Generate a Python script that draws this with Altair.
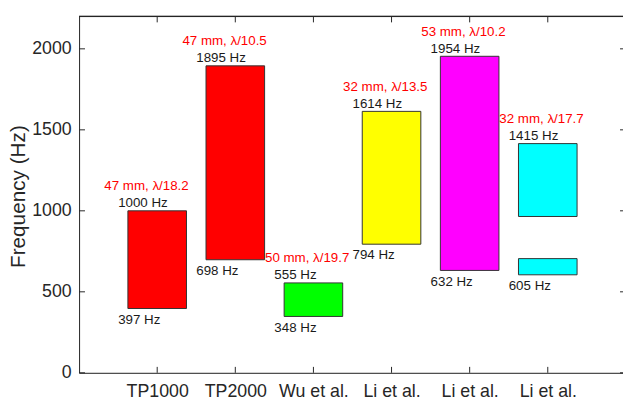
import json
import altair as alt
import pandas as pd

# ---- data ----
categories = ["TP1000", "TP2000", "Wu et al.", "Li et al.", "Li et al.", "Li et al."]
low_hz = [397, 698, 348, 794, 632, 605]
high_hz = [1000, 1895, 555, 1614, 1954, 1415]
size_labels = ["47 mm, λ/18.2", "47 mm, λ/10.5", "50 mm, λ/19.7",
               "32 mm, λ/13.5", "53 mm, λ/10.2", "32 mm, λ/17.7"]
bar_colors = ["#FF0000", "#FF0000", "#00FF00", "#FFFF00", "#FF00FF", "#00FFFF"]
# frequency bands (the last device has two separate bands)
seg_pos = [1, 2, 3, 4, 5, 6, 6]
seg_low = [397, 698, 348, 794, 632, 605, 965]
seg_high = [1000, 1895, 555, 1614, 1954, 705, 1415]
y_ticks = [0, 500, 1000, 1500, 2000]

W, H = 551, 361
FONT = "Liberation Sans"
AX = "#262626"
TXT = 13.5

pos = list(range(1, len(categories) + 1))
labels_df = pd.DataFrame({
    "pos": pos, "low": low_hz, "high": high_hz, "info": size_labels,
    "low_txt": [f"{v} Hz" for v in low_hz],
    "high_txt": [f"{v} Hz" for v in high_hz],
})
seg_df = pd.DataFrame({
    "pos": seg_pos, "lo": seg_low, "hi": seg_high,
    "color": [bar_colors[p - 1] for p in seg_pos],
})
yt_df = pd.DataFrame({"v": y_ticks})
xt_df = pd.DataFrame({"p": pos})

label_expr = json.dumps([""] + categories) + "[datum.value]"
xscale = alt.Scale(domain=[0, 6.963], nice=False, zero=False)
yscale = alt.Scale(domain=[0, 2200], nice=False, zero=True)
x_axis = alt.Axis(values=pos, labelExpr=label_expr, ticks=False, tickSize=0,
                  grid=False, domainColor=AX, domainWidth=1, labelFontSize=18,
                  labelColor=AX, labelFont=FONT, labelPadding=10,
                  labelOverlap=False, labelFlush=False, title=None)
y_axis = alt.Axis(values=y_ticks, format="d", ticks=False, tickSize=0, grid=False,
                  domainColor=AX, domainWidth=1, labelFontSize=18,
                  labelColor=AX, labelFont=FONT, labelPadding=8,
                  title="Frequency (Hz)", titleFontSize=21,
                  titleFontWeight="normal", titleFont=FONT, titleColor=AX,
                  titleAngle=270, titleBaseline="alphabetic",
                  titleX=-55, titleY=182)

bars = alt.Chart(seg_df).transform_calculate(
    x0="datum.pos - 0.375", x1="datum.pos + 0.375"
).mark_rect(stroke="#333333", strokeWidth=1).encode(
    x=alt.X("x0:Q", scale=xscale, axis=x_axis),
    x2="x1:Q",
    y=alt.Y("lo:Q", scale=yscale, axis=y_axis),
    y2="hi:Q",
    color=alt.Color("color:N", scale=None),
)

base_txt = alt.Chart(labels_df).transform_calculate(xl="datum.pos - 0.5")

high_txt = base_txt.mark_text(align="left", baseline="alphabetic", dy=-3.5,
                              fontSize=TXT, font=FONT, color="#1a1a1a").encode(
    x=alt.X("xl:Q", scale=xscale, axis=x_axis),
    y=alt.Y("high:Q", scale=yscale, axis=y_axis),
    text="high_txt:N",
)
low_txt = base_txt.mark_text(align="left", baseline="alphabetic", dy=15.5,
                             fontSize=TXT, font=FONT, color="#1a1a1a").encode(
    x=alt.X("xl:Q", scale=xscale, axis=x_axis),
    y=alt.Y("low:Q", scale=yscale, axis=y_axis),
    text="low_txt:N",
)
info_tp = base_txt.transform_filter("datum.pos <= 2").mark_text(
    align="left", baseline="alphabetic", dy=-21, dx=-14,
    fontSize=TXT, font=FONT, color="#FF0000").encode(
    x=alt.X("xl:Q", scale=xscale, axis=x_axis),
    y=alt.Y("high:Q", scale=yscale, axis=y_axis),
    text="info:N",
)
info_other = base_txt.transform_filter("datum.pos > 2").mark_text(
    align="left", baseline="alphabetic", dy=-21, dx=-9.5,
    fontSize=TXT, font=FONT, color="#FF0000").encode(
    x=alt.X("xl:Q", scale=xscale, axis=x_axis),
    y=alt.Y("high:Q", scale=yscale, axis=y_axis),
    text="info:N",
)

tick_style = dict(color=AX, strokeWidth=1)
left_ticks = alt.Chart(yt_df).mark_rule(**tick_style).encode(
    y=alt.Y("v:Q", scale=yscale, axis=y_axis), x=alt.value(0), x2=alt.value(6))
right_ticks = alt.Chart(yt_df).mark_rule(**tick_style).encode(
    y=alt.Y("v:Q", scale=yscale, axis=y_axis), x=alt.value(W - 3), x2=alt.value(W))
bottom_ticks = alt.Chart(xt_df).mark_rule(**tick_style).encode(
    x=alt.X("p:Q", scale=xscale, axis=x_axis), y=alt.value(H), y2=alt.value(H - 6))
top_ticks = alt.Chart(xt_df).mark_rule(**tick_style).encode(
    x=alt.X("p:Q", scale=xscale, axis=x_axis), y=alt.value(0), y2=alt.value(6))
top_border = alt.Chart(xt_df).mark_rule(**tick_style).encode(
    x=alt.value(0), x2=alt.value(W), y=alt.value(0))

chart = alt.layer(
    bars, left_ticks, right_ticks, bottom_ticks, top_ticks, top_border,
    high_txt, low_txt, info_tp, info_other,
).properties(
    width=W, height=H,
    autosize=alt.AutoSizeParams(type="none"),
    padding={"left": 72, "top": 6, "right": 0, "bottom": 26},
).configure_view(stroke=None).configure(background="white")

chart.save("out.html", embed_options={"renderer": "svg", "actions": False})
